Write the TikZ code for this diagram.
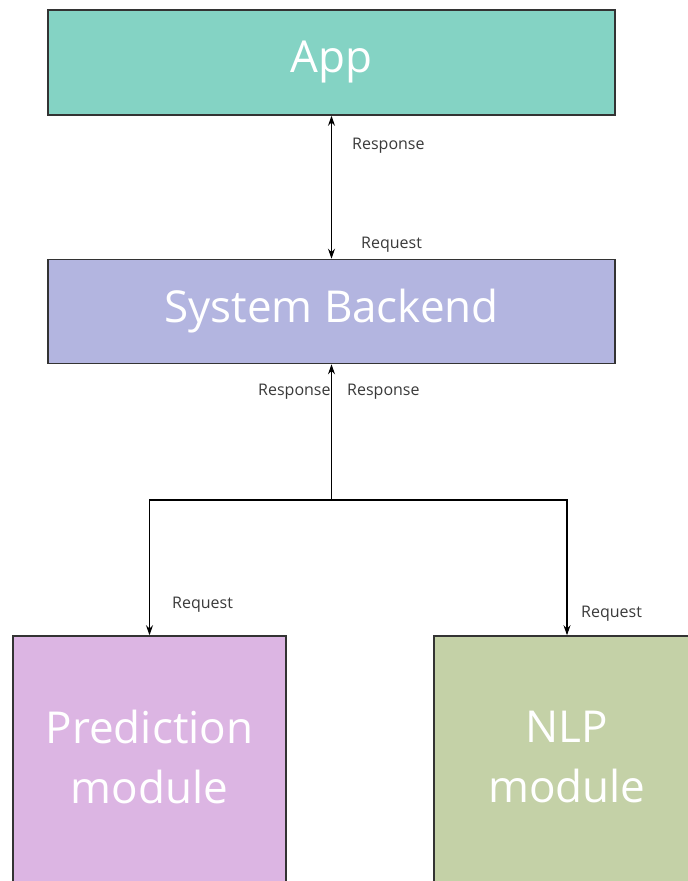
\documentclass[tikz,border=0pt]{standalone}
\usepackage{fontspec}
\setmainfont{Open Sans}
\usetikzlibrary{arrows.meta}
\definecolor{appfill}{HTML}{84D3C4}
\definecolor{backfill}{HTML}{B3B5E0}
\definecolor{predfill}{HTML}{DCB5E3}
\definecolor{nlpfill}{HTML}{C4D1A7}
\definecolor{edgegray}{HTML}{333333}
\definecolor{labelgray}{HTML}{3A3A3A}
\tikzset{
  block/.style={draw=edgegray, line width=1.6pt, text=white, align=center,
    inner sep=0pt, font=\fontsize{44}{60}\selectfont},
  blocktext/.style={text=white, align=center, inner sep=0pt,
    font=\fontsize{44}{60}\selectfont},
  link/.style={draw=black, line width=1.1pt},
  tip/.style={-{Stealth[length=10pt,width=7pt]}},
  tips/.style={{Stealth[length=10pt,width=7pt]}-{Stealth[length=10pt,width=7pt]}},
  lbl/.style={text=labelgray, font=\fontsize{16}{19}\selectfont, inner sep=0pt, anchor=west}
}
\begin{document}
\begin{tikzpicture}[x=1pt,y=-1pt]
  \useasboundingbox (0,0) rectangle (688,881);
  \clip (0,0) rectangle (688,881);
  \fill[white] (0,0) rectangle (688,881);
  % boxes
  \node[block, fill=appfill, minimum width=567pt, minimum height=105pt] (app) at (331.5,62.5) {App};
  \node[block, fill=backfill, minimum width=567pt, minimum height=104pt] (backend) at (331.5,311.5) {System Backend};
  \node[block, fill=predfill, minimum width=273pt, minimum height=256pt] (pred) at (149.5,764) {};
  \node[block, fill=nlpfill, minimum width=266pt, minimum height=256pt] (nlp) at (567,764) {};
  \node[blocktext] (predtext) at (149.5,757) {Prediction\\module};
  \node[blocktext] (nlptext) at (567,757) {NLP\\module};
  % connectors
  \coordinate (hub) at (331.5,500);
  \draw[link, tips] (app.south) -- (backend.north);
  \draw[link, tip] (hub) -- (backend.south);
  \draw[link, tip] (hub) -| (pred.north);
  \draw[link, tip] (hub) -| (nlp.north);
  % connector labels
  \node[lbl] (l1) at (352,146) {Response};
  \node[lbl] (l2) at (361,245) {Request};
  \node[lbl] (l3) at (258,392) {Response};
  \node[lbl] (l4) at (347,392) {Response};
  \node[lbl] (l5) at (172,605) {Request};
  \node[lbl] (l6) at (581,614) {Request};
\end{tikzpicture}
\end{document}
